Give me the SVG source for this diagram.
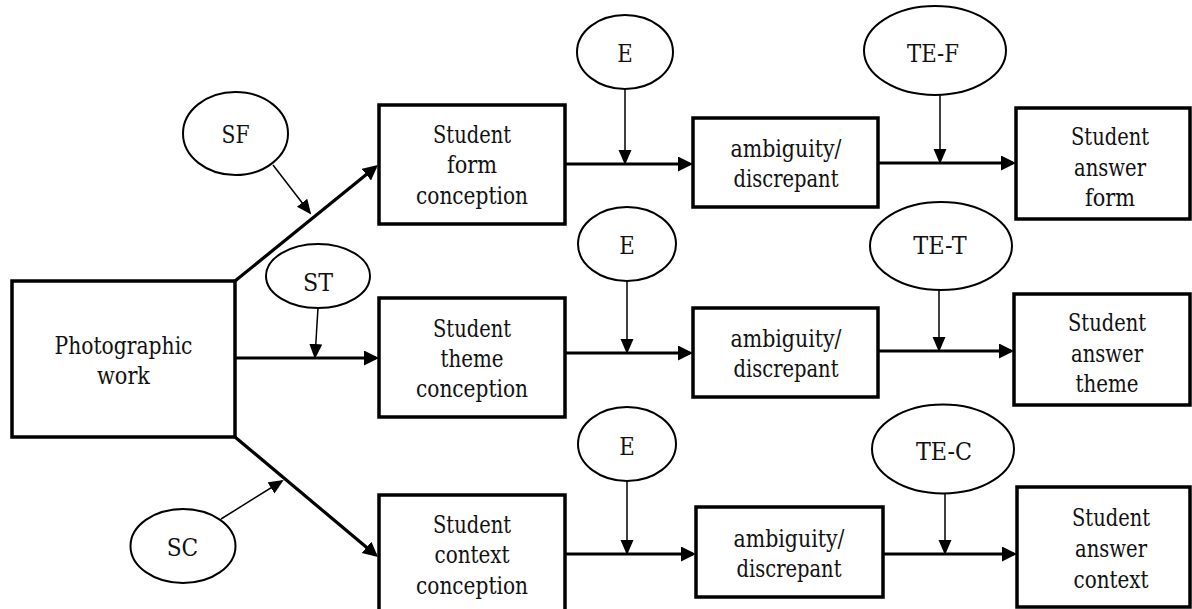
<svg xmlns="http://www.w3.org/2000/svg" width="1192" height="609" viewBox="0 0 1192 609">
<defs>
<style>
.box{fill:#fff;stroke:#000;stroke-width:3.5}
.ell{fill:#fff;stroke:#000;stroke-width:2}
text{font-family:'DejaVu Serif Condensed','DejaVu Serif',serif;font-stretch:condensed;font-size:25px;fill:#111;text-anchor:middle}
.thick{stroke:#000;stroke-width:3.2;fill:none;marker-end:url(#ah)}
.thin{stroke:#000;stroke-width:1.5;fill:none;marker-end:url(#as)}
</style>
<marker id="ah" markerUnits="userSpaceOnUse" markerWidth="16" markerHeight="16" refX="12" refY="7.5" orient="auto" viewBox="0 0 16 16">
<path d="M0,0 L15,7.5 L0,15 z" fill="#000"/>
</marker>
<marker id="as" markerUnits="userSpaceOnUse" markerWidth="16" markerHeight="14" refX="13" refY="6.5" orient="auto" viewBox="0 0 16 14">
<path d="M0,0 L15,6.5 L0,13 z" fill="#000"/>
</marker>
</defs>
<rect width="1192" height="609" fill="#fff"/>

<g id="connectors">
<path class="thick" d="M235,281 L375.6,167"/>
<path class="thick" d="M235,358 L376,358"/>
<path class="thick" d="M235,437 L375.7,555"/>
<path class="thick" d="M565,164 L690,164"/>
<path class="thick" d="M878,163 L1013,163"/>
<path class="thick" d="M565,353 L690,353"/>
<path class="thick" d="M878,351 L1011,351"/>
<path class="thick" d="M565,554 L693,554"/>
<path class="thick" d="M883,554 L1014,554"/>
<path class="thin" d="M625,89 L625,163"/>
<path class="thin" d="M940,95 L940,162"/>
<path class="thin" d="M627,281 L627,352"/>
<path class="thin" d="M939,290 L939,350"/>
<path class="thin" d="M627,481 L627,553"/>
<path class="thin" d="M945,494 L945,553"/>
<path class="thin" d="M273,165 L310,213"/>
<path class="thin" d="M318,308 L315,357"/>
<path class="thin" d="M221,519 L282,481"/>
</g>

<g id="photographic-work">
<rect class="box" x="12" y="281" width="223" height="156"/>
<text x="123.5" y="354" textLength="138" lengthAdjust="spacingAndGlyphs">Photographic</text>
<text x="123.5" y="384" textLength="53" lengthAdjust="spacingAndGlyphs">work</text>
</g>

<g id="sf">
<ellipse class="ell" cx="235.5" cy="133.5" rx="52.5" ry="41.5"/>
<text x="235.5" y="143" textLength="28" lengthAdjust="spacingAndGlyphs">SF</text>
</g>
<g id="st">
<ellipse class="ell" cx="318" cy="276" rx="52" ry="32"/>
<text x="318" y="291" textLength="30" lengthAdjust="spacingAndGlyphs">ST</text>
</g>
<g id="sc">
<ellipse class="ell" cx="183" cy="546" rx="52.5" ry="37"/>
<text x="182.5" y="556" textLength="31.5" lengthAdjust="spacingAndGlyphs">SC</text>
</g>

<g id="student-form-conception">
<rect class="box" x="379" y="105" width="186" height="119"/>
<text x="472" y="143" textLength="78" lengthAdjust="spacingAndGlyphs">Student</text>
<text x="472" y="173" textLength="50" lengthAdjust="spacingAndGlyphs">form</text>
<text x="472" y="204" textLength="112" lengthAdjust="spacingAndGlyphs">conception</text>
</g>
<g id="student-theme-conception">
<rect class="box" x="379" y="298" width="186" height="119"/>
<text x="472" y="337" textLength="78" lengthAdjust="spacingAndGlyphs">Student</text>
<text x="472" y="367" textLength="63" lengthAdjust="spacingAndGlyphs">theme</text>
<text x="472" y="397" textLength="112" lengthAdjust="spacingAndGlyphs">conception</text>
</g>
<g id="student-context-conception">
<rect class="box" x="379" y="495" width="186" height="125"/>
<text x="472" y="533" textLength="78" lengthAdjust="spacingAndGlyphs">Student</text>
<text x="472" y="563" textLength="75" lengthAdjust="spacingAndGlyphs">context</text>
<text x="472" y="594" textLength="112" lengthAdjust="spacingAndGlyphs">conception</text>
</g>

<g id="e-1">
<ellipse class="ell" cx="625" cy="52" rx="48" ry="37"/>
<text x="625" y="62" textLength="15.5" lengthAdjust="spacingAndGlyphs">E</text>
</g>
<g id="e-2">
<ellipse class="ell" cx="627" cy="244" rx="49" ry="37"/>
<text x="627" y="254" textLength="15.5" lengthAdjust="spacingAndGlyphs">E</text>
</g>
<g id="e-3">
<ellipse class="ell" cx="627" cy="444" rx="49" ry="37"/>
<text x="627" y="455" textLength="15.5" lengthAdjust="spacingAndGlyphs">E</text>
</g>

<g id="ambiguity-1">
<rect class="box" x="693" y="118" width="185" height="89"/>
<text x="786" y="157" textLength="111" lengthAdjust="spacingAndGlyphs">ambiguity/</text>
<text x="786" y="187" textLength="105" lengthAdjust="spacingAndGlyphs">discrepant</text>
</g>
<g id="ambiguity-2">
<rect class="box" x="693" y="308" width="185" height="89"/>
<text x="786" y="347" textLength="111" lengthAdjust="spacingAndGlyphs">ambiguity/</text>
<text x="786" y="377" textLength="105" lengthAdjust="spacingAndGlyphs">discrepant</text>
</g>
<g id="ambiguity-3">
<rect class="box" x="696" y="507" width="187" height="90"/>
<text x="789" y="547" textLength="111" lengthAdjust="spacingAndGlyphs">ambiguity/</text>
<text x="789" y="577" textLength="105" lengthAdjust="spacingAndGlyphs">discrepant</text>
</g>

<g id="te-f">
<ellipse class="ell" cx="935" cy="50.5" rx="71" ry="44.5"/>
<text x="933" y="62" textLength="52" lengthAdjust="spacingAndGlyphs">TE-F</text>
</g>
<g id="te-t">
<ellipse class="ell" cx="941" cy="246" rx="71" ry="44"/>
<text x="940" y="254" textLength="53.5" lengthAdjust="spacingAndGlyphs">TE-T</text>
</g>
<g id="te-c">
<ellipse class="ell" cx="943" cy="449" rx="71" ry="44.5"/>
<text x="944" y="460" textLength="56" lengthAdjust="spacingAndGlyphs">TE-C</text>
</g>

<g id="student-answer-form">
<rect class="box" x="1016" y="108" width="174" height="111"/>
<text x="1110" y="145" textLength="78" lengthAdjust="spacingAndGlyphs">Student</text>
<text x="1110" y="176" textLength="72" lengthAdjust="spacingAndGlyphs">answer</text>
<text x="1110" y="206" textLength="50" lengthAdjust="spacingAndGlyphs">form</text>
</g>
<g id="student-answer-theme">
<rect class="box" x="1014" y="294" width="176" height="111"/>
<text x="1107" y="331" textLength="78" lengthAdjust="spacingAndGlyphs">Student</text>
<text x="1107" y="362" textLength="72" lengthAdjust="spacingAndGlyphs">answer</text>
<text x="1107" y="392" textLength="63" lengthAdjust="spacingAndGlyphs">theme</text>
</g>
<g id="student-answer-context">
<rect class="box" x="1017" y="487" width="173" height="120"/>
<text x="1111" y="526" textLength="78" lengthAdjust="spacingAndGlyphs">Student</text>
<text x="1111" y="557" textLength="72" lengthAdjust="spacingAndGlyphs">answer</text>
<text x="1111" y="588" textLength="75" lengthAdjust="spacingAndGlyphs">context</text>
</g>
</svg>
